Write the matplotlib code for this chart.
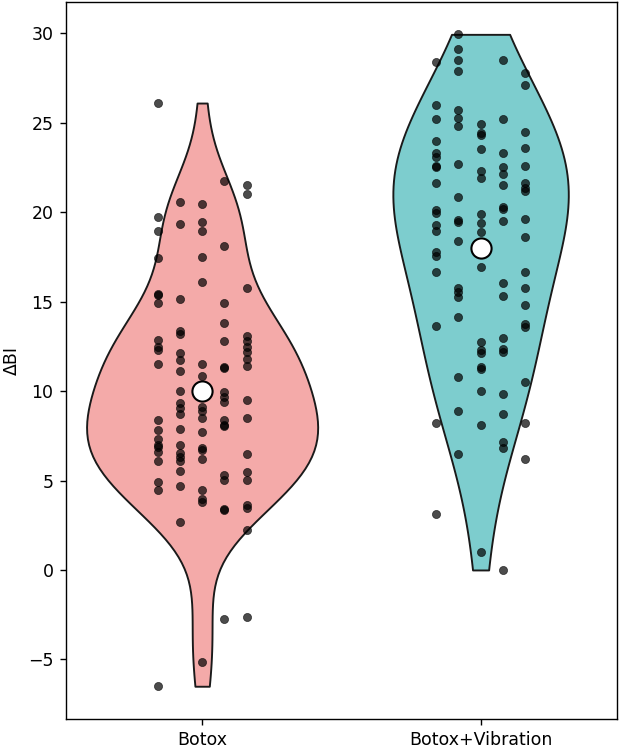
"""Violin plot of ΔBI for Botox vs Botox+Vibration with jittered points."""

import numpy as np
import pandas as pd
import matplotlib
matplotlib.use("Agg")
import matplotlib.pyplot as plt
import seaborn as sns

groups = ["Botox", "Botox+Vibration"]
colors = ["#F4AAA9", "#7DCDCE"]

# values, one list per jitter column (left -> right)
botox = [
    [26.1, 19.74, 18.96, 17.44, 15.45, 15.35, 14.9, 12.85, 12.45, 12.3, 11.51,
     8.36, 7.83, 7.33, 7.0, 6.9, 6.58, 6.07, 4.9, 4.47, -6.5],
    [20.56, 19.35, 15.13, 13.35, 13.2, 12.13, 11.72, 11.1, 10.0, 9.35, 9.07,
     8.73, 7.87, 6.99, 6.55, 6.3, 6.1, 5.55, 4.67, 2.66],
    [20.45, 19.44, 18.94, 17.52, 16.11, 11.51, 10.82, 9.1, 8.86, 8.51, 7.7,
     6.8, 6.72, 6.2, 4.47, 3.97, 3.78, -5.14],
    [21.72, 18.13, 14.9, 13.81, 12.78, 11.35, 11.27, 9.94, 9.66, 9.38, 8.36,
     8.12, 8.04, 5.33, 5.05, 3.4, 3.33, -2.73],
    [21.54, 21.03, 15.74, 13.09, 12.8, 12.47, 12.19, 11.82, 11.39, 9.48, 8.51,
     6.47, 5.5, 5.05, 3.65, 3.46, 2.24, -2.62],
]
vibration = [
    [28.41, 25.99, 25.19, 24.0, 23.29, 23.1, 22.6, 22.5, 21.62, 20.1, 19.95,
     19.28, 18.95, 17.79, 17.55, 16.68, 13.64, 8.23, 3.11],
    [29.94, 29.12, 28.51, 27.89, 25.71, 25.28, 24.82, 22.69, 20.83, 19.56,
     19.43, 18.41, 15.75, 15.52, 15.28, 14.13, 10.81, 8.9, 6.48],
    [24.91, 24.4, 24.3, 23.52, 22.32, 21.9, 19.9, 19.41, 18.91, 16.96, 12.73,
     12.3, 12.15, 11.33, 11.22, 10.02, 8.1, 1.02],
    [28.51, 25.19, 23.33, 22.51, 22.12, 21.52, 20.3, 20.15, 19.52, 16.03,
     15.32, 12.95, 12.34, 12.2, 9.85, 8.72, 7.14, 6.8, 0.0],
    [27.8, 27.11, 24.5, 23.6, 22.6, 21.62, 21.35, 21.2, 19.62, 18.63, 16.68,
     15.75, 14.81, 13.73, 13.6, 10.53, 8.23, 6.2],
]
centers = [10.0, 18.0]  # white markers
violin_widths = [0.83, 0.63]
bw_adjust = [1.0, 1.4]
jitter_step = 0.08

rows = []
for g, cols in zip(groups, [botox, vibration]):
    for ci, vals in enumerate(cols):
        for v in vals:
            rows.append({"group": g, "col": ci, "dBI": v})
df = pd.DataFrame(rows)

fig = plt.figure(figsize=(619 / 125, 748 / 125), dpi=125)
ax = fig.add_axes([0.1061, 0.0388, 0.8907, 0.9581])

for i, g in enumerate(groups):
    sub = df[df["group"] == g]
    sns.violinplot(data=sub, x="group", y="dBI", order=groups, color=colors[i],
                   saturation=1, cut=0, inner=None, density_norm="width",
                   width=violin_widths[i], bw_adjust=bw_adjust[i],
                   linewidth=1.1, linecolor="#1a1a1a", ax=ax)

for i, g in enumerate(groups):
    sub = df[df["group"] == g]
    xs = i + (sub["col"].to_numpy() - 2) * jitter_step
    ax.scatter(xs, sub["dBI"], s=22, color="black", alpha=0.7,
               edgecolors="black", linewidths=0.4, zorder=3)
    ax.scatter([i], [centers[i]], s=135, color="white", edgecolors="black",
               linewidths=1.2, zorder=4)

ax.set_xlim(-0.49, 1.49)
ax.set_ylim(-8.33, 31.73)
ax.set_yticks([-5, 0, 5, 10, 15, 20, 25, 30])
ax.set_xlabel("")
ax.set_ylabel("ΔBI")

fig.savefig("out.png", dpi=125)
plt.close(fig)
